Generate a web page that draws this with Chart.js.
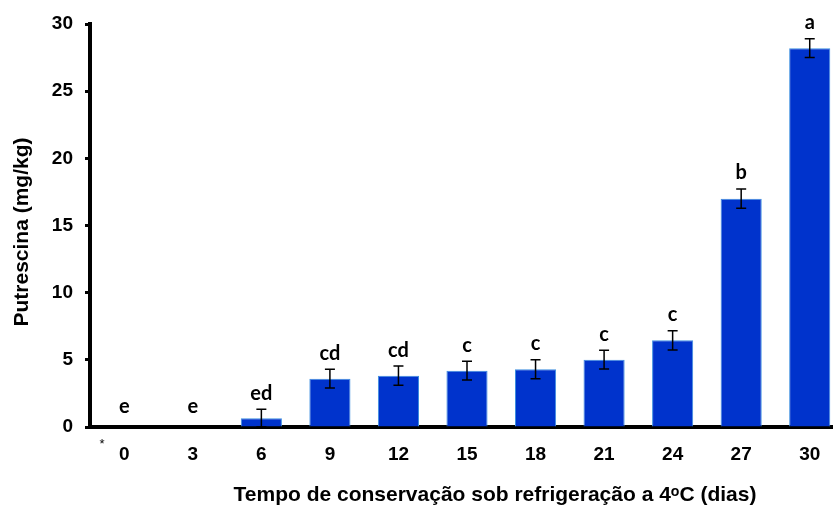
<!DOCTYPE html>
<html>
<head>
<meta charset="utf-8">
<script src="https://cdn.jsdelivr.net/npm/chart.js@4.4.0/dist/chart.umd.min.js"></script>
<style>
  html, body { margin: 0; padding: 0; background: #fff; overflow: hidden; }
  #wrap { width: 845px; height: 506px; }
</style>
</head>
<body>
<div id="wrap"><canvas id="myChart" width="845" height="506"></canvas></div>
<script>
// dias de conservação
const dias = ['0', '3', '6', '9', '12', '15', '18', '21', '24', '27', '30'];
// putrescina (mg/kg)
const putrescina = [0, 0, 0.65, 3.6, 3.82, 4.19, 4.3, 5.01, 6.45, 17.0, 28.2];
const erro = [0.05, 0.05, 0.67, 0.7, 0.72, 0.7, 0.7, 0.7, 0.72, 0.72, 0.7];
const letras = ['e', 'e', 'ed', 'cd', 'cd', 'c', 'c', 'c', 'c', 'b', 'a'];
const yTicks = [0, 5, 10, 15, 20, 25, 30];

const tickFont = { family: "'Liberation Sans', Arial, sans-serif", size: 19, weight: 'bold' };

// barras de erro + letras
const errorBars = {
  id: 'errorBars',
  afterDatasetsDraw(chart) {
    const ctx = chart.ctx;
    const y = chart.scales.y;
    const meta = chart.getDatasetMeta(0);
    ctx.save();
    meta.data.forEach((bar, i) => {
      const v = putrescina[i];
      const e = erro[i];
      const top = y.getPixelForValue(v + e);
      const bot = y.getPixelForValue(Math.max(v - e, 0));
      const x = bar.x;
      ctx.strokeStyle = '#000';
      ctx.lineWidth = 1.5;
      ctx.beginPath();
      ctx.moveTo(x, top); ctx.lineTo(x, bot);
      ctx.moveTo(x - 5, top); ctx.lineTo(x + 5, top);
      ctx.moveTo(x - 5, bot); ctx.lineTo(x + 5, bot);
      ctx.stroke();

      ctx.fillStyle = '#000';
      ctx.font = "bold 20px Lato, 'Open Sans', sans-serif";
      ctx.textAlign = 'center';
      ctx.textBaseline = 'alphabetic';
      const base = Math.min(top - 9.5, y.getPixelForValue(0) - 14);
      ctx.fillText(letras[i], x, base);
    });
    ctx.restore();
  }
};

// títulos dos eixos
const axisTitles = {
  id: 'axisTitles',
  afterDraw(chart) {
    const ctx = chart.ctx;
    ctx.save();
    ctx.fillStyle = '#000';
    ctx.font = "bold 21px 'Liberation Sans', Arial, sans-serif";
    ctx.textAlign = 'center';
    ctx.textBaseline = 'middle';
    ctx.fillText('Tempo de conservação sob refrigeração a 4ᵒC (dias)', 495, 495);
    ctx.translate(22, 232);
    ctx.rotate(-Math.PI / 2);
    ctx.fillText('Putrescina (mg/kg)', 0, 0);
    ctx.restore();
    ctx.save();
    ctx.font = "13px 'Liberation Sans', Arial, sans-serif";
    ctx.fillStyle = '#000';
    ctx.textAlign = 'center';
    ctx.textBaseline = 'middle';
    ctx.fillText('*', 102, 444);
    ctx.restore();
  }
};

const ctx = document.getElementById('myChart');
const myChart = new Chart(ctx, {
  type: 'bar',
  data: {
    labels: dias,
    datasets: [{
      data: putrescina,
      backgroundColor: '#0033cc',
      borderColor: '#3d8fe0',
      borderWidth: 1,
      barPercentage: 0.6,
      categoryPercentage: 1.0
    }]
  },
  options: {
    responsive: false,
    animation: false,
    layout: { padding: { top: 24, right: 1, left: 0, bottom: 0 } },
    plugins: {
      legend: { display: false },
      tooltip: { enabled: false }
    },
    scales: {
      x: {
        afterFit: s => { s.height = 79; },
        grid: { display: false, drawTicks: false },
        border: { display: true, width: 4, color: '#000' },
        ticks: { color: '#000', font: tickFont, padding: 16 }
      },
      y: {
        min: 0,
        max: 30,
        afterFit: s => { s.width = 90; },
        afterBuildTicks: s => { s.ticks = yTicks.map(v => ({ value: v })); },
        grid: { drawOnChartArea: false, drawTicks: true, tickLength: 5, tickWidth: 3, color: '#000' },
        border: { display: true, width: 4, color: '#000' },
        ticks: { color: '#000', font: tickFont, padding: 12 }
      }
    }
  },
  plugins: [errorBars, axisTitles]
});
</script>
</body>
</html>
